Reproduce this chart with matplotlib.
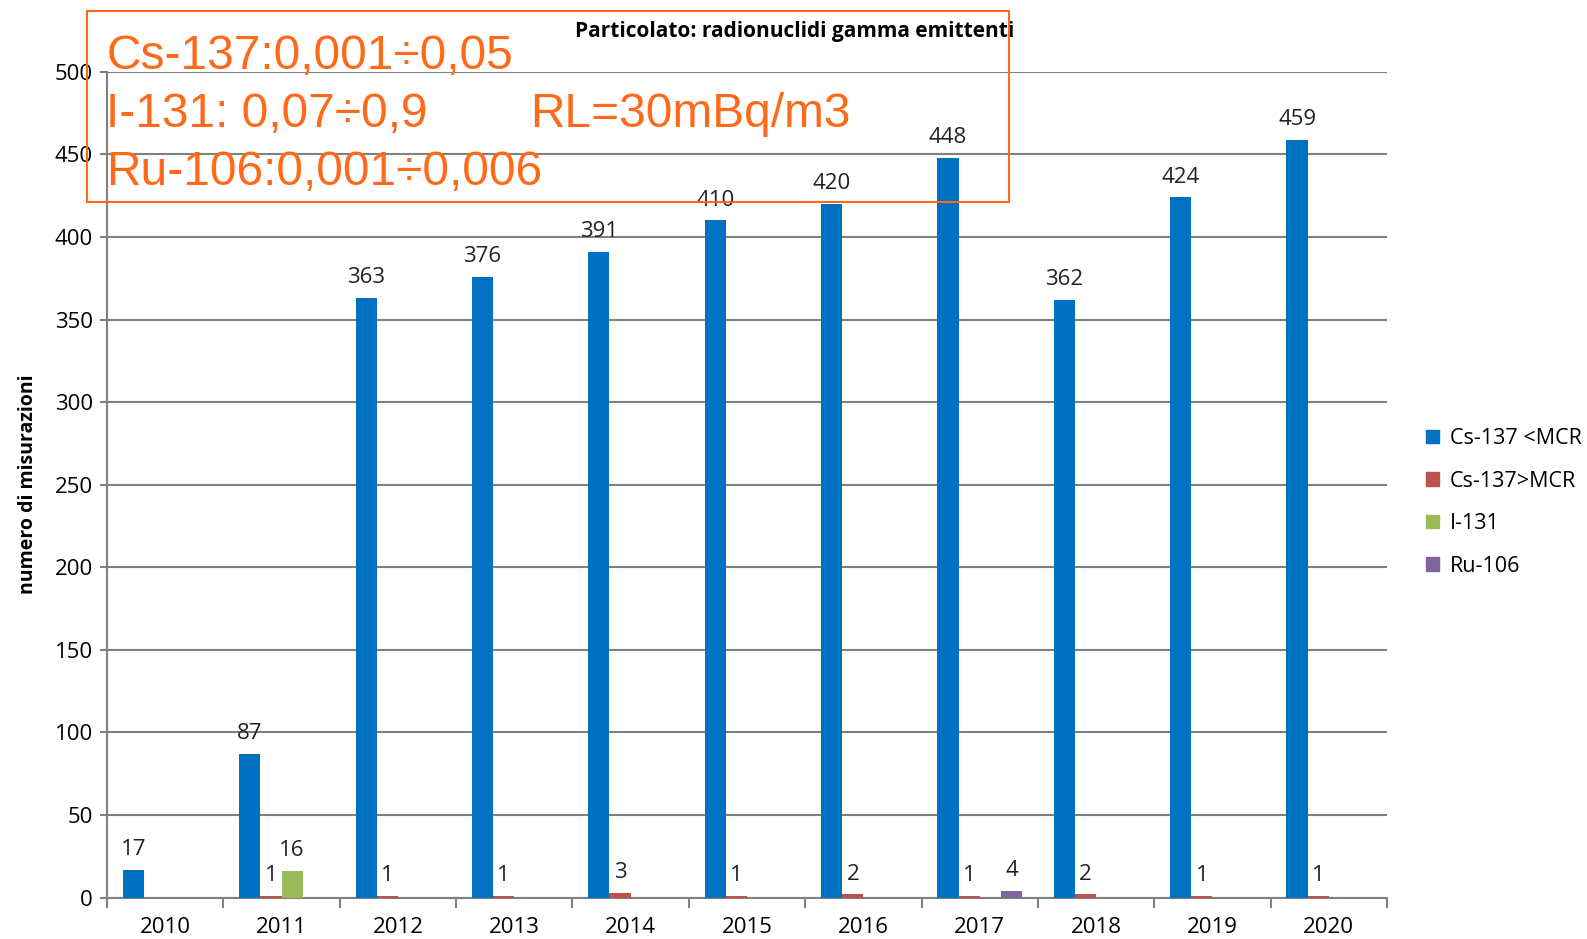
import numpy as np
import matplotlib.pyplot as plt
from matplotlib.patches import Patch, Rectangle

years = ['2010', '2011', '2012', '2013', '2014', '2015', '2016', '2017', '2018', '2019', '2020']
cs137_below = [17, 87, 363, 376, 391, 410, 420, 448, 362, 424, 459]
cs137_above = [0, 1, 1, 1, 3, 1, 2, 1, 2, 1, 1]
i131 = [0, 16, 0, 0, 0, 0, 0, 0, 0, 0, 0]
ru106 = [0, 0, 0, 0, 0, 0, 0, 4, 0, 0, 0]
series_names = ['Cs-137 <MCR', 'Cs-137>MCR', 'I-131', 'Ru-106']
colors = ['#0070C0', '#C0504D', '#9BBB59', '#8064A2']
notes = ['Cs-137:0,001÷0,05', 'I-131: 0,07÷0,9', 'Ru-106:0,001÷0,006']

plt.rcParams['font.family'] = ['Open Sans', 'DejaVu Sans']
gray = '#808080'

fig = plt.figure(figsize=(15.87, 9.39), dpi=100)
ax = fig.add_axes([0.0674, 0.0441, 0.8066, 0.8794])

x = np.arange(len(years))
w = 0.182
series = [cs137_below, cs137_above, i131, ru106]
for k, vals in enumerate(series):
    pos = x + (k - 1.5) * w
    ax.bar(pos, vals, width=w, color=colors[k], zorder=3)
    for xp, v in zip(pos, vals):
        if v > 0:
            ax.annotate(str(v), (xp, v), xytext=(0, 7), textcoords='offset points',
                        ha='center', va='bottom', fontsize=16, color='#222222')

ax.set_xlim(-0.5, len(years) - 0.5)
ax.set_ylim(0, 500)
ax.set_yticks(np.arange(0, 501, 50))
ax.yaxis.grid(True, color=gray, linewidth=1.5, zorder=0)
ax.set_xticks(x)
ax.set_xticklabels(years)
ax.set_xticks(np.arange(-0.5, len(years)), minor=True)
ax.tick_params(axis='x', which='major', length=0, pad=14, labelsize=16)
ax.tick_params(axis='x', which='minor', length=7, width=1.5, color=gray)
ax.tick_params(axis='y', length=5, width=1.5, color=gray, labelsize=16, pad=5)
for s in ['top', 'right']:
    ax.spines[s].set_visible(False)
for s in ['left', 'bottom']:
    ax.spines[s].set_color(gray)
    ax.spines[s].set_linewidth(1.5)

ax.set_ylabel('numero di misurazioni', fontsize=14, fontweight='bold', labelpad=12)
fig.text(0.5005, 0.966, 'Particolato: radionuclidi gamma emittenti', ha='center', va='center',
         fontsize=15, fontweight='bold')

handles = [Patch(color=c, label=n) for c, n in zip(colors, series_names)]
fig.legend(handles=handles, loc='center left', bbox_to_anchor=(0.8865, 0.465), frameon=False,
           fontsize=15.5, handlelength=0.6, handleheight=0.6, handletextpad=0.5, labelspacing=1.0)

# orange notes box over the top-left of the plot
orange = '#FF6A1A'
fig.patches.append(Rectangle((0.0548, 0.785), 0.581, 0.203, transform=fig.transFigure,
                             fill=False, edgecolor=orange, linewidth=1.5, zorder=10))
for i, t in enumerate(notes):
    fig.text(0.067, 0.926 - i * 0.0615, t, ha='left', va='baseline', fontsize=34.5,
             color=orange, family='Liberation Sans', zorder=11)
fig.text(0.334, 0.8645, 'RL=30mBq/m3', ha='left', va='baseline', fontsize=34.5,
         color=orange, family='Liberation Sans', zorder=11)

fig.savefig('out.png', dpi=100)
